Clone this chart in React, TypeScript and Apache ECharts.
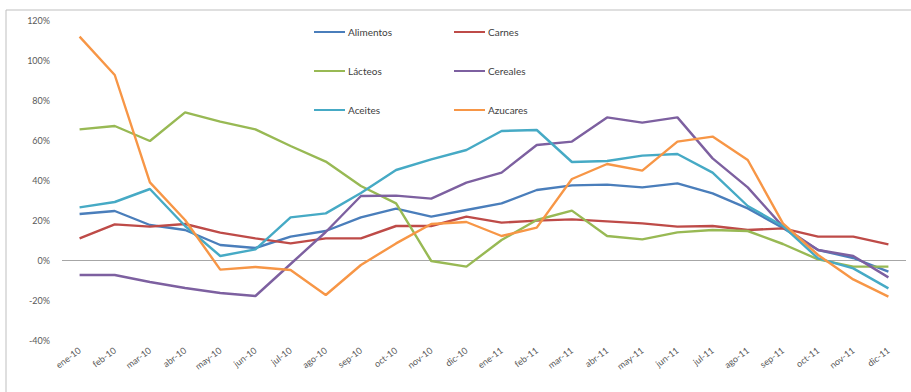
import React, { useEffect, useRef } from "react";
import * as echarts from "echarts";

const categories = [
  "ene-10", "feb-10", "mar-10", "abr-10", "may-10", "jun-10", "jul-10", "ago-10", "sep-10", "oct-10", "nov-10", "dic-10",
  "ene-11", "feb-11", "mar-11", "abr-11", "may-11", "jun-11", "jul-11", "ago-11", "sep-11", "oct-11", "nov-11", "dic-11",
];

const alimentos = [23, 24.5, 17.5, 15, 7.5, 6, 11.7, 14.5, 21.3, 25.7, 21.7, 25, 28.3, 35, 37.3, 37.7, 36.3, 38.3, 33.3, 25.8, 16, 5, 1, -5.8];
const carnes = [10.8, 17.8, 16.7, 18, 13.7, 10.8, 8.3, 10.8, 10.8, 17, 17, 21.7, 18.7, 19.7, 20.3, 19.3, 18.3, 16.7, 17, 15, 15.8, 11.7, 11.7, 7.8];
const lacteos = [65.3, 67, 59.5, 73.8, 69.2, 65.3, 57, 49.2, 37, 28.3, -0.5, -3.3, 10, 20, 24.7, 12, 10.3, 13.8, 15, 14.5, 8, 0.3, -3.3, -3.3];
const cereales = [-7.5, -7.5, -11, -14, -16.5, -18, -2, 14, 32, 32.2, 30.7, 38.7, 43.7, 57.5, 59.2, 71.3, 68.7, 71.3, 50.8, 36.3, 16.7, 5, 2, -8.7];
const aceites = [26.3, 29, 35.5, 17, 2, 5.3, 21.3, 23.3, 33.5, 45, 50.3, 55, 64.5, 65, 49, 49.5, 52.2, 53, 43.7, 27, 17, 0.8, -4.2, -14.2];
const azucares = [111.7, 92.5, 38.8, 20, -4.8, -3.5, -5, -17.5, -2.5, 8.3, 18, 19, 12, 16.2, 40.5, 48, 44.7, 59.2, 61.7, 50, 18.3, 2.5, -9.7, -18.3];

const seriesNames = ["Alimentos", "Carnes", "Lácteos", "Cereales", "Aceites", "Azucares"];
const seriesData = [alimentos, carnes, lacteos, cereales, aceites, azucares];
const seriesColors = ["#4A7EBB", "#BE4B48", "#98B954", "#7D60A0", "#46AAC5", "#F79646"];

const yTicks = [-40, -20, 0, 20, 40, 60, 80, 100, 120];

export default function App() {
  const ref = useRef<HTMLDivElement>(null);

  useEffect(() => {
    if (!ref.current) return;
    const chart = echarts.init(ref.current, undefined, { renderer: "svg" });
    const font = "Lato, 'Open Sans', sans-serif";
    const legendPos = [
      { left: 314, top: 27 },
      { left: 454, top: 27 },
      { left: 314, top: 66 },
      { left: 454, top: 66 },
      { left: 314, top: 105 },
      { left: 454, top: 105 },
    ];
    chart.setOption({
      animation: false,
      backgroundColor: "#ffffff",
      graphic: [
        {
          type: "rect",
          shape: { x: 6, y: 10, width: 920, height: 400 },
          style: { fill: "none", stroke: "#BFBFBF", lineWidth: 1 },
          silent: true,
        },
      ],
      legend: seriesNames.map((n, i) => ({
        data: [n],
        left: legendPos[i].left,
        top: legendPos[i].top,
        icon: "rect",
        itemWidth: 31,
        itemHeight: 2,
        itemGap: 0,
        padding: 0,
        selectedMode: false,
        textStyle: { fontSize: 10, color: "#404040", fontFamily: font, padding: [0, 0, 0, -2] },
      })),
      grid: { left: 62, right: 5, top: 20, bottom: 52, containLabel: false },
      xAxis: {
        type: "category",
        data: categories,
        boundaryGap: true,
        axisLine: { show: false },
        axisTick: { show: false },
        axisLabel: {
          rotate: 37,
          interval: 0,
          fontSize: 9,
          color: "#595959",
          fontFamily: font,
          margin: 9,
        },
        splitLine: { show: false },
      },
      yAxis: {
        type: "value",
        min: -40,
        max: 120,
        interval: 20,
        axisLine: { show: false },
        axisTick: { show: false },
        splitLine: { show: false },
        axisLabel: {
          fontSize: 9,
          color: "#595959",
          fontFamily: font,
          margin: 12,
          formatter: (v: number) => (yTicks.includes(v) ? `${v}%` : ""),
        },
      },
      series: seriesNames.map((n, i) => ({
        name: n,
        type: "line",
        data: seriesData[i],
        symbol: "none",
        lineStyle: { width: 2.4, color: seriesColors[i] },
        itemStyle: { color: seriesColors[i] },
        z: i === 5 ? 3 : 2,
        markLine:
          i === 0
            ? {
                silent: true,
                symbol: "none",
                label: { show: false },
                lineStyle: { color: "#A6A6A6", width: 1.2, type: "solid" },
                data: [{ yAxis: 0 }],
                z: 1,
              }
            : undefined,
      })),
    });
    return () => chart.dispose();
  }, []);

  return (
    <div
      ref={ref}
      style={{ position: "fixed", left: 0, top: 0, width: 911, height: 392 }}
    />
  );
}
